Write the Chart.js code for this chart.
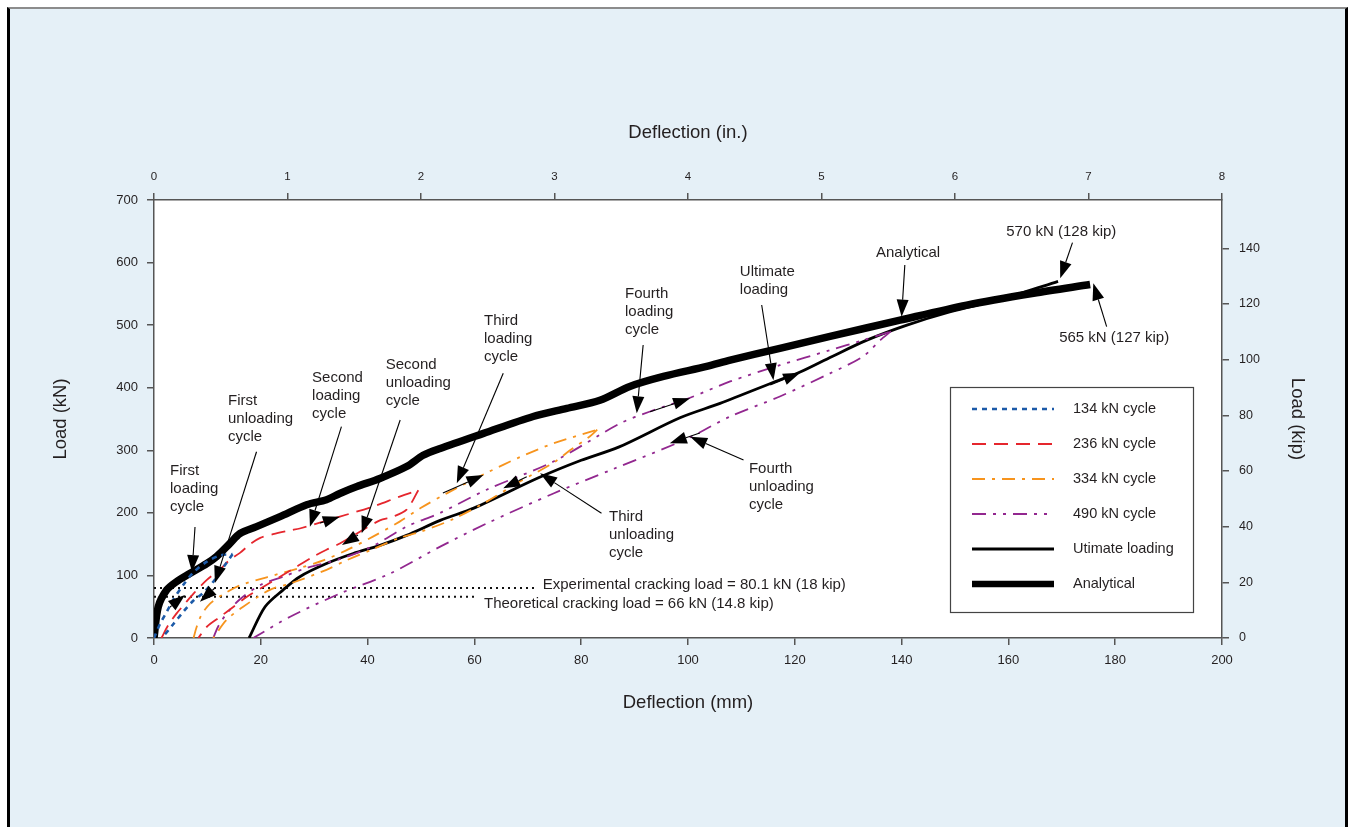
<!DOCTYPE html>
<html>
<head>
<meta charset="utf-8">
<title>Load-deflection response</title>
<script src="https://cdn.jsdelivr.net/npm/chart.js@4.4.1/dist/chart.umd.min.js"></script>
<style>
  html, body { margin: 0; padding: 0; background: #ffffff; overflow: hidden; }
  #frame {
    position: absolute; left: 7px; top: 7px; width: 1335px; height: 900px;
    background: #e5f0f7;
    border-left: 3px solid #000; border-right: 3px solid #000; border-top: 2px solid #8c8c8c;
  }
  #wrap { position: absolute; left: 0; top: 0; width: 1354px; height: 827px; }
</style>
</head>
<body>
<div id="frame"></div>
<div id="wrap"><canvas id="chart" width="1354" height="827"></canvas></div>
<script>
// ---- axis ticks ----
const mmTicks  = [0, 20, 40, 60, 80, 100, 120, 140, 160, 180, 200];
const inTicks  = [0, 1, 2, 3, 4, 5, 6, 7, 8];
const kNTicks  = [0, 100, 200, 300, 400, 500, 600, 700];
const kipTicks = [0, 20, 40, 60, 80, 100, 120, 140];
const KN_PER_KIP = 4.448;

// ---- 134 kN cycle (deflection mm, load kN) ----
const c134LoadDefl   = [0, 1.1, 2.4, 3.6, 5.5, 7.4, 9.9, 12.4, 14.7];
const c134LoadKN     = [0, 22, 42, 61, 85, 105, 122, 132, 134];
const c134UnloadDefl = [14.7, 13.0, 11.1, 9.2, 7.4, 5.5, 3.6, 1.5];
const c134UnloadKN   = [134, 113, 90, 72, 60, 42, 22, 0];

// ---- 236 kN cycle ----
const c236LoadDefl   = [1.4, 2.7, 4.2, 5.8, 7.4, 9.9, 12.4, 14.2, 16.1, 18.0, 19.9, 22.3, 25.5, 27.3, 34.8, 41.0, 46.0, 49.5];
const c236LoadKN     = [0, 21, 39, 55, 71, 93, 110, 125, 136, 150, 160, 166, 172, 175, 194, 210, 226, 236];
const c236UnloadDefl = [49.5, 47.3, 44.8, 42.3, 38.0, 34.8, 32.3, 29.8, 26.7, 23.6, 20.5, 17.4, 14.9, 12.4, 9.9, 8.3];
const c236UnloadKN   = [236, 205, 194, 188, 167, 151, 141, 130, 114, 98, 82, 66, 50, 34, 18, 0];

// ---- 334 kN cycle ----
const c334LoadDefl   = [7.4, 8.0, 8.9, 10.5, 13.0, 16.1, 21.1, 27.3, 31.7, 36.0, 41.0, 46.0, 50.0, 55.0, 62.3, 68.5, 74.8, 83.0];
const c334LoadKN     = [0, 18, 37, 55, 70, 84, 97, 112, 124, 140, 162, 186, 208, 232, 264, 289, 311, 333];
const c334UnloadDefl = [83.0, 81.6, 77.9, 74.8, 68.5, 62.3, 56.0, 50.0, 46.0, 41.0, 36.0, 32.3, 25.5, 21.7, 16.7, 13.6, 11.1];
const c334UnloadKN   = [333, 322, 300, 280, 250, 218, 190, 170, 160, 142, 124, 109, 87, 77, 50, 29, 0];

// ---- 490 kN cycle ----
const c490LoadDefl   = [11.1, 12.0, 13.6, 16.1, 20.0, 24.2, 28.6, 34.8, 41.0, 47.3, 53.6, 62.3, 74.8, 87.3, 92.9, 100.4, 107.9, 117.2, 126.6, 132.8, 138.0];
const c490LoadKN     = [0, 18, 39, 62, 85, 98, 112, 126, 147, 178, 200, 237, 282, 343, 362, 384, 410, 436, 460, 476, 490];
const c490UnloadDefl = [138.0, 136.0, 132.8, 126.6, 117.2, 107.9, 99.7, 86.0, 74.8, 62.3, 53.6, 44.2, 34.8, 25.5, 18.6];
const c490UnloadKN   = [490, 476, 450, 423, 386, 354, 318, 270, 231, 183, 146, 103, 71, 34, 0];

// ---- ultimate loading ----
const ultimateDefl = [17.8, 20.8, 24.2, 27.3, 32.3, 37.3, 42.3, 47.3, 53.6, 60.0, 72.0, 80.0, 87.0, 98.5, 106.0, 117.0, 121.0, 127.0, 133.5, 141.0, 149.0, 160.0, 169.3];
const ultimateKN   = [0, 50, 77, 98, 119, 135, 148, 164, 188, 208, 256, 284, 305, 352, 375, 412, 425, 450, 476, 500, 521, 545, 570];

// ---- analytical prediction ----
const analyticalDefl = [0, 0.8, 2.4, 4.2, 6.7, 9.9, 11.7, 14.2, 16.1, 19.2, 23.6, 28.6, 32.3, 34.8, 38.0, 42.3, 47.3, 50.4, 53.6, 61.7, 71.0, 77.3, 83.5, 89.1, 95.4, 103.5, 107.9, 117.2, 126.6, 139.7, 152.2, 164.7, 175.3];
const analyticalKN   = [0, 50, 77, 90, 103, 119, 130, 151, 167, 178, 194, 213, 221, 231, 242, 255, 274, 292, 303, 327, 354, 367, 380, 402, 418, 434, 444, 463, 482, 508, 532, 551, 565];

// ---- cracking loads (kN) and the deflection each reference line runs to ----
const crackExperimentalKN = 80.1;
const crackTheoreticalKN  = 66;
const crackExperimentalEnd = 71.3;
const crackTheoreticalEnd  = 60.3;

// ---- callouts: text blocks and leader arrows, in data units (mm, kN) ----
const calloutTexts = [
  { lines: ['First', 'loading', 'cycle'],       at: [3.0, 266.9] },
  { lines: ['First', 'unloading', 'cycle'],     at: [13.86, 378.8] },
  { lines: ['Second', 'loading', 'cycle'],      at: [29.6, 415.5] },
  { lines: ['Second', 'unloading', 'cycle'],    at: [43.4, 436.3] },
  { lines: ['Third', 'loading', 'cycle'],       at: [61.8, 506.6] },
  { lines: ['Fourth', 'loading', 'cycle'],      at: [88.2, 549.8] },
  { lines: ['Ultimate', 'loading'],             at: [109.7, 584.9] },
  { lines: ['Analytical'],                      at: [135.2, 615.3] },
  { lines: ['570 kN (128 kip)'],                at: [159.6, 648.9] },
  { lines: ['565 kN (127 kip)'],                at: [169.5, 479.5] },
  { lines: ['Third', 'unloading', 'cycle'],     at: [85.2, 193.4] },
  { lines: ['Fourth', 'unloading', 'cycle'],    at: [111.4, 270.1] },
  { lines: ['Experimental cracking load = 80.1 kN (18 kip)'], at: [72.8, 84.7] },
  { lines: ['Theoretical cracking load = 66 kN (14.8 kip)'],  at: [61.8, 54.3] }
];
const calloutArrows = [
  { from: [7.68, 177.4],  to: [7.12, 105.5] },
  { from: [3.0, 49.5],    to: [5.8, 68.7] },
  { from: [19.2, 297.7],  to: [11.4, 87.9] },
  { from: [11.4, 79.9],   to: [8.6, 58.0] },
  { from: [35.1, 337.7],  to: [29.2, 177.9] },
  { from: [31.1, 183.8],  to: [34.8, 193.9] },
  { from: [46.1, 348.4],  to: [38.9, 167.3] },
  { from: [38.2, 164.6],  to: [35.2, 148.6] },
  { from: [65.4, 423.0],  to: [56.7, 247.2] },
  { from: [54.1, 231.7],  to: [61.7, 260.5] },
  { from: [83.8, 199.3],  to: [72.3, 263.2] },
  { from: [69.8, 257.8],  to: [65.4, 239.2] },
  { from: [91.6, 468.3],  to: [90.4, 359.1] },
  { from: [92.9, 361.7],  to: [100.4, 383.1] },
  { from: [110.4, 284.5], to: [100.4, 321.7] },
  { from: [102.2, 327.6], to: [96.6, 311.2] },
  { from: [113.8, 532.2], to: [116.0, 412.0] },
  { from: [115.4, 404.3], to: [121.0, 424.0] },
  { from: [140.6, 596.1], to: [140.0, 513.5] },
  { from: [172.0, 631.8], to: [169.7, 574.9] },
  { from: [178.4, 497.5], to: [175.9, 566.9] }
];

const FONT = '"Liberation Sans", Arial, Helvetica, sans-serif';
const INK = '#231f20';
const AXIS = '#555555';

function pts(xs, ys) { return xs.map((x, i) => ({ x: x, y: ys[i] })); }

// line styles shared by each cycle's loading and unloading branch
const styles = {
  c134: { borderColor: '#1c5aa8', borderWidth: 2.6, borderDash: [5, 5] },
  c236: { borderColor: '#e5262d', borderWidth: 1.8, borderDash: [14, 8] },
  c334: { borderColor: '#f7941d', borderWidth: 1.8, borderDash: [13, 7, 3, 7] },
  c490: { borderColor: '#92278f', borderWidth: 1.8, borderDash: [14, 7, 3, 7, 3, 7] },
  ult:  { borderColor: '#000000', borderWidth: 2.8, borderDash: [] },
  ana:  { borderColor: '#000000', borderWidth: 7.5, borderDash: [] },
  crack:{ borderColor: '#111111', borderWidth: 2, borderDash: [2, 4] }
};

const datasets = [
  Object.assign({ label: '134 kN cycle', data: pts(c134LoadDefl, c134LoadKN), inLegend: true }, styles.c134),
  Object.assign({ label: '134 kN unloading', data: pts(c134UnloadDefl, c134UnloadKN) }, styles.c134),
  Object.assign({ label: '236 kN cycle', data: pts(c236LoadDefl, c236LoadKN), inLegend: true }, styles.c236),
  Object.assign({ label: '236 kN unloading', data: pts(c236UnloadDefl, c236UnloadKN) }, styles.c236),
  Object.assign({ label: '334 kN cycle', data: pts(c334LoadDefl, c334LoadKN), inLegend: true }, styles.c334),
  Object.assign({ label: '334 kN unloading', data: pts(c334UnloadDefl, c334UnloadKN) }, styles.c334),
  Object.assign({ label: '490 kN cycle', data: pts(c490LoadDefl, c490LoadKN), inLegend: true }, styles.c490),
  Object.assign({ label: '490 kN unloading', data: pts(c490UnloadDefl, c490UnloadKN) }, styles.c490),
  Object.assign({ label: 'Utimate loading', data: pts(ultimateDefl, ultimateKN), inLegend: true }, styles.ult),
  Object.assign({ label: 'Analytical', data: pts(analyticalDefl, analyticalKN), inLegend: true, legendWidth: 6.5 }, styles.ana),
  Object.assign({ label: 'Experimental cracking load', tension: 0,
    data: pts([0, crackExperimentalEnd], [crackExperimentalKN, crackExperimentalKN]) }, styles.crack),
  Object.assign({ label: 'Theoretical cracking load', tension: 0,
    data: pts([0, crackTheoreticalEnd], [crackTheoreticalKN, crackTheoreticalKN]) }, styles.crack)
].map(d => Object.assign({
  showLine: true, pointRadius: 0, tension: 0.3, fill: false,
  borderJoinStyle: 'round', borderCapStyle: 'butt', xAxisID: 'x', yAxisID: 'y'
}, d));

function setTicks(list) {
  return scale => { scale.ticks = list.map(v => ({ value: v })); };
}

function axisCommon(titleText, tickSize, tickPad) {
  return {
    type: 'linear',
    border: { display: true, color: AXIS, width: 1.5 },
    grid: { drawOnChartArea: false, drawTicks: true, tickLength: 7, color: AXIS, lineWidth: 1.5 },
    ticks: { font: { family: FONT, size: tickSize }, color: INK, padding: tickPad, maxRotation: 0, autoSkip: false },
    title: { display: true, text: titleText, color: INK, padding: 0, font: { family: FONT, size: 18.5 } }
  };
}

// white plot panel
const panelPlugin = {
  id: 'panel',
  beforeDraw(chart) {
    const { ctx, chartArea: a } = chart;
    ctx.save();
    ctx.fillStyle = '#ffffff';
    ctx.fillRect(a.left, a.top, a.right - a.left, a.bottom - a.top);
    ctx.restore();
  }
};

// callout arrows, text and the boxed key
const calloutPlugin = {
  id: 'callouts',
  afterDatasetsDraw(chart) {
    const { ctx, chartArea: a } = chart;
    const sx = chart.scales.x, sy = chart.scales.y;
    const px = v => sx.getPixelForValue(v), py = v => sy.getPixelForValue(v);
    ctx.save();

    // arrows
    calloutArrows.forEach(ar => {
      const x0 = px(ar.from[0]), y0 = py(ar.from[1]);
      const x1 = px(ar.to[0]), y1 = py(ar.to[1]);
      const ang = Math.atan2(y1 - y0, x1 - x0);
      const len = 17, half = 6;
      const bx = x1 - len * Math.cos(ang), by = y1 - len * Math.sin(ang);
      ctx.strokeStyle = '#000'; ctx.lineWidth = 1.1;
      ctx.beginPath(); ctx.moveTo(x0, y0); ctx.lineTo(bx, by); ctx.stroke();
      ctx.fillStyle = '#000';
      ctx.beginPath();
      ctx.moveTo(x1, y1);
      ctx.lineTo(bx + half * Math.sin(ang), by - half * Math.cos(ang));
      ctx.lineTo(bx - half * Math.sin(ang), by + half * Math.cos(ang));
      ctx.closePath(); ctx.fill();
    });

    // text
    ctx.fillStyle = INK;
    ctx.font = '15px ' + FONT;
    ctx.textAlign = 'left';
    ctx.textBaseline = 'middle';
    calloutTexts.forEach(t => {
      const x = px(t.at[0]), y = py(t.at[1]);
      t.lines.forEach((ln, i) => ctx.fillText(ln, x, y + i * 18));
    });

    // key
    const bw = 243, bh = 225;
    const bx = a.right - 272, by = a.top + 187;
    ctx.fillStyle = '#ffffff';
    ctx.fillRect(bx, by, bw, bh);
    ctx.strokeStyle = '#444'; ctx.lineWidth = 1.2;
    ctx.strokeRect(bx + 0.5, by + 0.5, bw, bh);
    const items = chart.data.datasets.filter(d => d.inLegend);
    ctx.font = '14.5px ' + FONT;
    items.forEach((d, i) => {
      const ry = by + 22 + i * 35;
      ctx.strokeStyle = d.borderColor;
      ctx.lineWidth = d.legendWidth || d.borderWidth;
      ctx.setLineDash(d.borderDash || []);
      ctx.lineCap = 'butt';
      ctx.beginPath(); ctx.moveTo(bx + 22, ry); ctx.lineTo(bx + 104, ry); ctx.stroke();
      ctx.setLineDash([]);
      ctx.fillStyle = INK;
      ctx.fillText(d.label, bx + 123, ry);
    });
    ctx.restore();
  }
};

const yAxis  = axisCommon('Load (kN)', 13, 9);
const y2Axis = axisCommon('Load (kip)', 12.5, 10);
const xAxis  = axisCommon('Deflection (mm)', 13, 8);
const x2Axis = axisCommon('Deflection (in.)', 11.5, 9);

new Chart(document.getElementById('chart'), {
  type: 'scatter',
  data: { datasets: datasets },
  options: {
    responsive: false,
    animation: false,
    devicePixelRatio: 1,
    layout: { padding: { left: 50, right: 46, top: 122, bottom: 113 } },
    plugins: { legend: { display: false }, tooltip: { enabled: false } },
    scales: {
      x: Object.assign(xAxis, { position: 'bottom', min: 0, max: 200,
        afterBuildTicks: setTicks(mmTicks), afterFit: s => { s.height = 76; } }),
      x2: Object.assign(x2Axis, { position: 'top', min: 0, max: 8,
        afterBuildTicks: setTicks(inTicks), afterFit: s => { s.height = 78; } }),
      y: Object.assign(yAxis, { position: 'left', min: 0, max: 700,
        afterBuildTicks: setTicks(kNTicks), afterFit: s => { s.width = 104; } }),
      y2: Object.assign(y2Axis, { position: 'right', min: 0, max: 700 / KN_PER_KIP,
        afterBuildTicks: setTicks(kipTicks), afterFit: s => { s.width = 86; } })
    }
  },
  plugins: [panelPlugin, calloutPlugin]
});
</script>
</body>
</html>
